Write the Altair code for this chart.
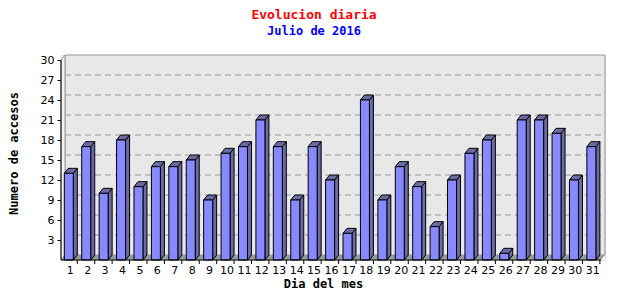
import altair as alt
import pandas as pd

# ---- data ----
days = list(range(1, 32))
accesos = [13, 17, 10, 18, 11, 14, 14, 15, 9, 16, 17, 21, 17, 9, 17, 12, 4,
           24, 9, 14, 11, 5, 12, 16, 18, 1, 21, 21, 19, 12, 17]
y_ticks = [3, 6, 9, 12, 15, 18, 21, 24, 27, 30]
grid_vals = [3, 6, 9, 12, 15, 18, 21, 24, 27]

# ---- geometry (3D look) ----
W, H = 544, 205
ux = 540 / 31.0          # px per day
uy = 200 / 30.0          # px per unit
DX = 4 / ux
DY = 5 / uy
BAR_OFF = 3.3 / ux
BAR_W = 9 / ux
XMIN, XMAX = 0.5, 31.5
YMAX = 30

xs = alt.Scale(domain=[XMIN, XMAX + DX], nice=False, zero=False)
ys = alt.Scale(domain=[0, YMAX + DY], nice=False, zero=False)

front = pd.DataFrame({"dia": days, "v": accesos})
front["xl"] = front["dia"] - 0.5 + BAR_OFF
front["xr"] = front["xl"] + BAR_W
front["y0"] = 0.0
front["xt"] = front["xr"] + DX

side_rows, top_rows = [], []
for d, v, xl, xr in zip(front["dia"], front["v"], front["xl"], front["xr"]):
    side_rows += [dict(dia=d, x=xr, lo=0.0, hi=v), dict(dia=d, x=xr + DX, lo=DY, hi=v + DY)]
    top_rows += [dict(dia=d, x=xl, lo=v, hi=v), dict(dia=d, x=xl + DX, lo=v, hi=v + DY),
                 dict(dia=d, x=xr, lo=v, hi=v + DY), dict(dia=d, x=xr + DX, lo=v + DY, hi=v + DY)]
side = pd.DataFrame(side_rows)
top = pd.DataFrame(top_rows)

wall = pd.DataFrame([dict(x=XMIN + DX, x2=XMAX + DX, y=DY, y2=YMAX + DY)])
leftwall = pd.DataFrame([dict(g=0, x=XMIN, lo=0.0, hi=YMAX), dict(g=0, x=XMIN + DX, lo=DY, hi=YMAX + DY)])
floor = pd.DataFrame([dict(g=0, x=XMIN, lo=0.0, hi=0.0), dict(g=0, x=XMIN + DX, lo=0.0, hi=DY),
                      dict(g=0, x=XMAX, lo=0.0, hi=DY), dict(g=0, x=XMAX + DX, lo=DY, hi=DY)])
grid = pd.DataFrame({"x": XMIN + DX, "x2": XMAX + DX, "y": [g + DY for g in grid_vals]})
xaxis_line = pd.DataFrame([dict(x=XMIN, x2=XMAX, y=0.0)])
yaxis_line = pd.DataFrame([dict(x=XMIN, y=0.0, y2=YMAX)])

FRONT_C = "#8888ff"
DARK_C = "#6b6ba6"

XA = alt.Axis(values=days, format="d", ticks=False, grid=False, domain=False,
              labelFont="DejaVu Sans", labelFontSize=11, labelColor="#000000",
              labelPadding=4, labelAngle=0, labelFlush=False,
              title="Dia del mes", titleFont="DejaVu Sans Mono", titleFontSize=12,
              titleFontWeight="bold", titleColor="#000000",
              titleX=262, titleY=23, titleAlign="center", titleBaseline="middle")
YA = alt.Axis(values=y_ticks, format="d", grid=False, domain=False, ticks=True,
              tickSize=4, tickColor="#000000", labelFont="DejaVu Sans",
              labelFontSize=11, labelColor="#000000", labelPadding=3,
              title="Numero de accesos", titleFont="DejaVu Sans Mono", titleFontSize=12,
              titleFontWeight="bold", titleColor="#000000", titleAngle=-90,
              titleX=-48, titleY=98, titleAlign="center", titleBaseline="middle")


def X(f):
    return alt.X(f, scale=xs, axis=XA)


def Y(f):
    return alt.Y(f, scale=ys, axis=YA)


back = alt.Chart(wall).mark_rect(fill="#e8e8e8", stroke="#999999", strokeWidth=1).encode(
    x=X("x:Q"), x2="x2:Q", y=Y("y:Q"), y2="y2:Q")

lw = alt.Chart(leftwall).mark_area(orient="vertical", fill="#f2f2f2", stroke="#999999",
                                   strokeWidth=1).encode(
    x=X("x:Q"), y=Y("lo:Q"), y2="hi:Q", detail="g:N")

fl = alt.Chart(floor).mark_area(orient="vertical", fill="#999999").encode(
    x=X("x:Q"), y=Y("lo:Q"), y2="hi:Q", detail="g:N")

gr = alt.Chart(grid).mark_rule(color="#999999", strokeDash=[6, 4], strokeWidth=1).encode(
    x=X("x:Q"), x2="x2:Q", y=Y("y:Q"))

sd = alt.Chart(side).mark_area(orient="vertical", fill=DARK_C, stroke="#000000",
                               strokeWidth=1).encode(
    x=X("x:Q"), y=Y("lo:Q"), y2="hi:Q", detail="dia:N")

tp = alt.Chart(top).mark_area(orient="vertical", fill=DARK_C, stroke="#000000",
                              strokeWidth=1).encode(
    x=X("x:Q"), y=Y("lo:Q"), y2="hi:Q", detail="dia:N")

fr = alt.Chart(front).mark_rect(fill=FRONT_C, stroke="#000000", strokeWidth=1).encode(
    x=X("xl:Q"), x2="xr:Q", y=Y("y0:Q"), y2="v:Q")

xl_rule = alt.Chart(xaxis_line).mark_rule(color="#000000", strokeWidth=1).encode(
    x=X("x:Q"), x2="x2:Q", y=Y("y:Q"))
yl_rule = alt.Chart(yaxis_line).mark_rule(color="#000000", strokeWidth=1).encode(
    x=X("x:Q"), y=Y("y:Q"), y2="y2:Q")

xt = alt.Chart(front).mark_rule(color="#000000", strokeWidth=1).encode(
    x=X("xt:Q"), y=Y("y0:Q"), y2=alt.value(H + 4))

chart = alt.layer(back, lw, fl, gr, sd, tp, fr, xl_rule, yl_rule, xt).properties(
    width=W, height=H,
    autosize=alt.AutoSizeParams(type="none"),
    padding={"left": 61, "top": 55, "right": 35, "bottom": 40},
    title=alt.TitleParams(
        "Evolucion diaria", subtitle="Julio de 2016",
        font="DejaVu Sans Mono", fontSize=13, fontWeight="bold", color="#ff0000",
        subtitleFont="DejaVu Sans Mono", subtitleFontSize=12, subtitleFontWeight="bold",
        subtitleColor="#0000ff", anchor="middle", dx=-19, offset=16, subtitlePadding=4),
).configure_view(stroke=None).configure(background="#ffffff")

chart.save("out.html", embed_options={"renderer": "svg", "actions": False})
